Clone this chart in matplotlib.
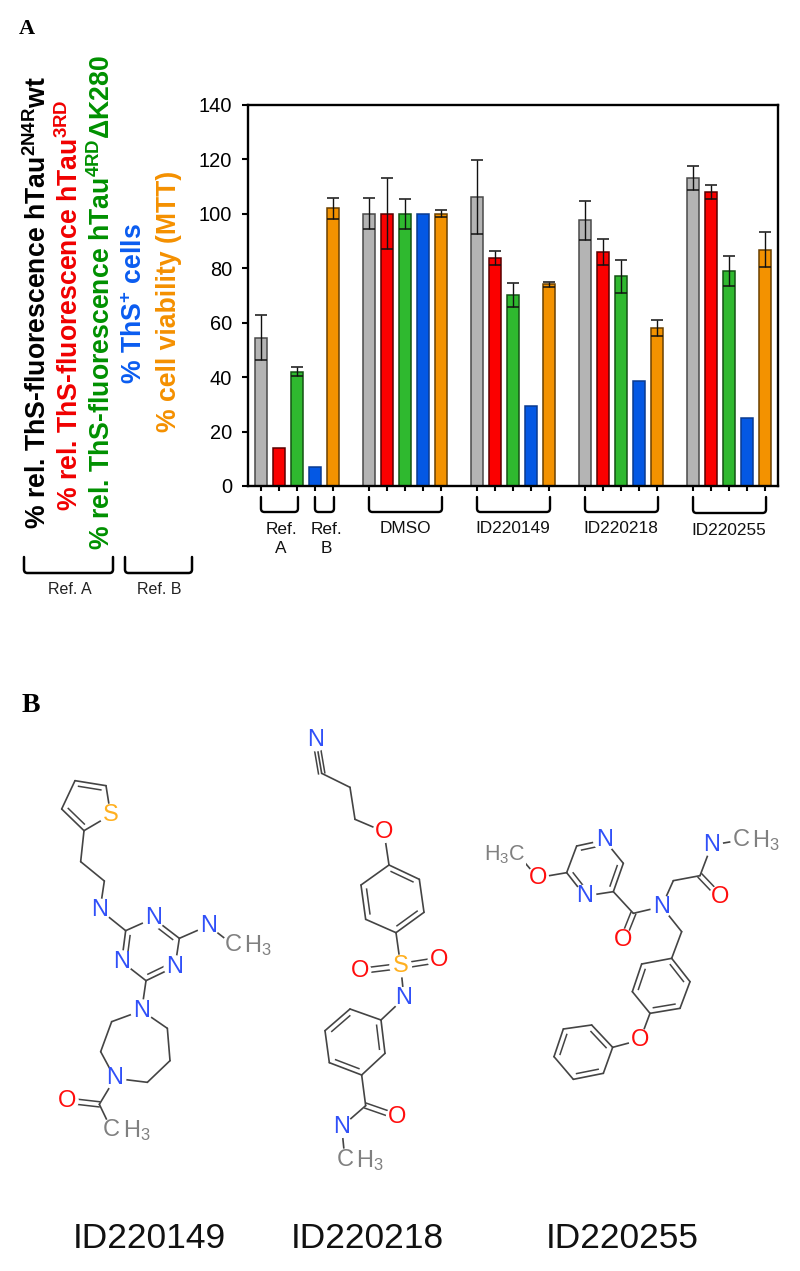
import numpy as np
import matplotlib
matplotlib.use("Agg")
import matplotlib.pyplot as plt
from matplotlib.path import Path
from matplotlib.patches import PathPatch

plt.rcParams["font.family"] = ["Liberation Sans", "DejaVu Sans"]
plt.rcParams["mathtext.default"] = "regular"

W, H = 800, 1271

# values per group: Ref, DMSO, ID220149, ID220218, ID220255
gray_vals = [54.5, 100, 106, 97.5, 113.2]
gray_errs = [8.2, 5.6, 13.6, 7.2, 4.4]
red_vals = [14, 100, 83.7, 86, 108]
red_errs = [0, 13, 2.6, 4.8, 2.6]
green_vals = [42, 100, 70, 77, 79]
green_errs = [1.6, 5.5, 4.4, 6, 5.5]
blue_vals = [7, 100, 29.5, 38.6, 25]
orange_vals = [102, 100, 74, 58, 86.8]
orange_errs = [3.8, 1.4, 0.8, 3, 6.5]
y_ticks = [0, 20, 40, 60, 80, 100, 120, 140]

group_labels = ["Ref.\nA", "Ref.\nB", "DMSO", "ID220149", "ID220218", "ID220255"]
group_spans = [(0, 2), (3, 4), (6, 10), (12, 16), (18, 22), (24, 28)]
compound_names = ["ID220149", "ID220218", "ID220255"]

series = [
    (gray_vals, gray_errs, "#b4b4b4", "#4a4a4a"),
    (red_vals, red_errs, "#fb0000", "#5a0000"),
    (green_vals, green_errs, "#2fb92f", "#145214"),
    (blue_vals, None, "#0458e4", "#0a3a90"),
    (orange_vals, orange_errs, "#f39200", "#6a4000"),
]

C_N = "#3050f8"
C_O = "#ff0d0d"
C_S = "#ffb020"
C_H = "#808080"
C_BOND = "#444444"

fig = plt.figure(figsize=(W / 100, H / 100), dpi=100)

# overlay in picture pixels, for everything outside the bar chart
over = fig.add_axes([0, 0, 1, 1])
over.set_xlim(0, W)
over.set_ylim(H, 0)
over.axis("off")

ax = fig.add_axes([248 / W, 1 - 486 / H, 530 / W, 381.3 / H])
ax.patch.set_alpha(0)

positions = []
for s, (vals, errs, color, edge) in enumerate(series):
    xs = np.arange(len(vals)) * 6 + s
    positions.extend(xs)
    ax.bar(xs, vals, width=0.63, color=color, edgecolor=edge, linewidth=1.1, zorder=2)
    if errs is not None:
        for x, v, e in zip(xs, vals, errs):
            if e > 0:
                ax.errorbar(x, v, yerr=e, color="#111111", elinewidth=1.0, capsize=4.2,
                            capthick=1.1, zorder=3)

ax.set_xlim(-0.72, 28.72)
ax.set_ylim(0, 140)
ax.set_yticks(y_ticks)
ax.set_xticks(sorted(positions))
ax.set_xticklabels([])
ax.tick_params(axis="y", length=4.5, width=1.5, labelsize=14.4, pad=7)
ax.tick_params(axis="x", length=3.6, width=1.5)
for sp in ax.spines.values():
    sp.set_linewidth(1.7)


def bracket(x0, x1, y0, y1, lw=1.7, r=3.5):
    verts = [(x0, y0), (x0, y1 - r), (x0, y1), (x0 + r, y1), (x1 - r, y1), (x1, y1), (x1, y1 - r), (x1, y0)]
    codes = [Path.MOVETO, Path.LINETO, Path.CURVE3, Path.CURVE3, Path.LINETO, Path.CURVE3, Path.CURVE3, Path.LINETO]
    over.add_patch(PathPatch(Path(verts, codes), fill=False, lw=lw, edgecolor="black",
                             capstyle="round", clip_on=False))


def px_x(v):
    return over.transData.inverted().transform(ax.transData.transform((v, 0)))[0]


label_y = [530, 530, 529, 529, 529, 531]
label_dx = [2, 2, 0, 0, 0, 0]
for i, ((a, b), lab) in enumerate(zip(group_spans, group_labels)):
    x0, x1 = px_x(a), px_x(b)
    bottom = 513 if i == 5 else 512
    bracket(x0, x1 + 1, 497, bottom)
    over.text((x0 + x1) / 2 + label_dx[i], label_y[i] - 8, lab, ha="center", va="top", fontsize=12.4,
              color="#111111", linespacing=1.3)

# rotated legend on the left
legend_rows = [
    (38, 529, "% rel. ThS-fluorescence hTau$^{2N4R}$wt", "black"),
    (70, 511, "% rel. ThS-fluorescence hTau$^{3RD}$", "#f00000"),
    (102, 550, "% rel. ThS-fluorescence hTau$^{4RD}$\u0394K280", "#009000"),
    (135, 384, "% ThS$^{+}$ cells", "#0a5cf0"),
    (169, 432, "% cell viability (MTT)", "#f49000"),
]
for x, y, txt, col in legend_rows:
    over.text(x, y, txt, rotation=90, ha="left", va="center", rotation_mode="anchor",
              fontsize=19.2, fontweight="bold", color=col)

bracket(24, 113, 557, 573, lw=1.8)
bracket(125, 192, 557, 573, lw=1.8)
over.text(70, 590, "Ref. A", ha="center", va="center", fontsize=11.5, color="#222222")
over.text(159, 590, "Ref. B", ha="center", va="center", fontsize=11.5, color="#222222")

over.text(19, 29, "A", family="Liberation Serif", fontweight="bold", fontsize=16, va="center", ha="left")
over.text(22, 705, "B", family="Liberation Serif", fontweight="bold", fontsize=20, va="center", ha="left")

# molecules: atom positions in 3x px from an origin; a double bond names an atom on its inner side
mol1_atoms = {
    "a": (165, 272), "b": (258, 287), "S": (272, 375), "c": (192, 422), "d": (125, 357),
    "e": (182, 515), "f": (253, 573), "N1": (240, 660), "g": (317, 722), "N2": (400, 685),
    "h": (478, 745), "N3": (465, 830), "i": (378, 872), "N4": (305, 815), "N5": (565, 707),
    "M1": (640, 765), "N6": (365, 962), "j": (275, 995), "k": (242, 1085), "N7": (285, 1165),
    "l": (382, 1177), "m": (450, 1112), "n": (442, 1015), "o": (238, 1243), "O": (142, 1232),
    "M2": (275, 1320),
}
mol1_bonds = [
    ("a", "b", 2, "c"), ("b", "S", 1, None), ("S", "c", 1, None), ("c", "d", 2, "a"), ("d", "a", 1, None),
    ("c", "e", 1, None), ("e", "f", 1, None), ("f", "N1", 1, None), ("N1", "g", 1, None), ("g", "N2", 1, None),
    ("N2", "h", 2, "i"), ("h", "N3", 1, None), ("N3", "i", 2, "g"), ("i", "N4", 1, None), ("N4", "g", 2, "h"),
    ("h", "N5", 1, None), ("N5", "M1", 1, None), ("i", "N6", 1, None), ("N6", "j", 1, None), ("j", "k", 1, None),
    ("k", "N7", 1, None), ("N7", "l", 1, None), ("l", "m", 1, None), ("m", "n", 1, None), ("n", "N6", 1, None),
    ("N7", "o", 1, None), ("o", "O", 4, None), ("o", "M2", 1, None),
]
mol1_labels = {"S": ("S", C_S), "N1": ("N", C_N), "N2": ("N", C_N), "N3": ("N", C_N), "N4": ("N", C_N),
               "N5": ("N", C_N), "N6": ("N", C_N), "N7": ("N", C_N), "O": ("O", C_O),
               "M1": ("C", C_H), "M2": ("C", C_H)}
mol1_h3 = ["M1", "M2"]

mol2_atoms = {
    "N1": (108, 90), "a": (125, 190), "b": (210, 232), "c": (225, 328), "O1": (312, 365),
    "d": (327, 465), "e": (418, 508), "f": (432, 607), "g": (348, 668), "h": (257, 628), "i": (243, 525),
    "S": (362, 768), "O2": (240, 783), "O3": (477, 750), "N2": (372, 865), "j": (303, 930),
    "k": (210, 897), "l": (135, 962), "m": (148, 1058), "n": (245, 1095), "o": (315, 1030),
    "p": (257, 1187), "O4": (352, 1220), "N3": (185, 1250), "M": (195, 1350),
}
mol2_bonds = [
    ("N1", "a", 3, None), ("a", "b", 1, None), ("b", "c", 1, None), ("c", "O1", 1, None), ("O1", "d", 1, None),
    ("d", "e", 2, "g"), ("e", "f", 1, None), ("f", "g", 2, "d"), ("g", "h", 1, None), ("h", "i", 2, "e"), ("i", "d", 1, None),
    ("g", "S", 1, None), ("S", "O2", 4, None), ("S", "O3", 4, None), ("S", "N2", 1, None), ("N2", "j", 1, None),
    ("j", "k", 1, None), ("k", "l", 2, "n"), ("l", "m", 1, None), ("m", "n", 2, "k"), ("n", "o", 1, None), ("o", "j", 2, "l"),
    ("n", "p", 1, None), ("p", "O4", 4, None), ("p", "N3", 1, None), ("N3", "M", 1, None),
]
mol2_labels = {"N1": ("N", C_N), "O1": ("O", C_O), "S": ("S", C_S), "O2": ("O", C_O), "O3": ("O", C_O),
               "N2": ("N", C_N), "O4": ("O", C_O), "N3": ("N", C_N), "M": ("C", C_H)}
mol2_h3 = ["M"]

mol3_atoms = {
    "M1": (145, 135), "O1": (203, 203), "a": (290, 188), "b": (320, 108), "N1": (403, 90), "c": (460, 160),
    "d": (430, 245), "N2": (345, 258), "e": (490, 310), "O2": (458, 390), "N3": (575, 290), "f": (610, 212),
    "g": (690, 197), "O3": (750, 260), "N4": (725, 105), "M2": (815, 90), "h": (635, 365), "i": (605, 445),
    "j": (515, 462), "k": (487, 545), "l": (540, 610), "m": (630, 595), "n": (660, 515), "O4": (510, 690),
    "o": (428, 712), "p": (365, 645), "q": (280, 657), "r": (252, 740), "s": (310, 808), "t": (400, 790),
}
mol3_bonds = [
    ("M1", "O1", 1, None), ("O1", "a", 1, None), ("a", "b", 1, None), ("b", "N1", 2, "d"), ("N1", "c", 1, None),
    ("c", "d", 2, "a"), ("d", "N2", 1, None), ("N2", "a", 2, "c"), ("d", "e", 1, None), ("e", "O2", 4, None),
    ("e", "N3", 1, None), ("N3", "f", 1, None), ("f", "g", 1, None), ("g", "O3", 4, None), ("g", "N4", 1, None),
    ("N4", "M2", 1, None), ("N3", "h", 1, None), ("h", "i", 1, None), ("i", "j", 1, None), ("j", "k", 2, "m"),
    ("k", "l", 1, None), ("l", "m", 2, "j"), ("m", "n", 1, None), ("n", "i", 2, "k"), ("l", "O4", 1, None),
    ("O4", "o", 1, None), ("o", "p", 2, "r"), ("p", "q", 1, None), ("q", "r", 2, "t"), ("r", "s", 1, None),
    ("s", "t", 2, "q"), ("t", "o", 1, None),
]
mol3_labels = {"O1": ("O", C_O), "N1": ("N", C_N), "N2": ("N", C_N), "O2": ("O", C_O), "N3": ("N", C_N),
               "O3": ("O", C_O), "N4": ("N", C_N), "O4": ("O", C_O), "M2": ("C", C_H)}
mol3_h3 = ["M2"]


def draw_molecule(atoms, bonds, labels, h3, origin, h3_dx):
    pts = {k: np.array((origin[0] + v[0] / 3, origin[1] + v[1] / 3)) for k, v in atoms.items()}
    for a, b, order, inner in bonds:
        p, q = pts[a], pts[b]
        d = q - p
        n = np.array([-d[1], d[0]]) / np.hypot(*d)
        if order in (1, 2, 3):
            over.plot(*zip(p, q), color=C_BOND, lw=1.2, zorder=2, solid_capstyle="round")
        if order == 2:
            o = 5.0 * np.sign(np.dot(n, pts[inner] - p))
            over.plot(*zip(p + n * o + d * 0.14, q + n * o - d * 0.14), color=C_BOND, lw=1.1, zorder=2)
        if order == 3:
            for o in (-3.2, 3.2):
                over.plot(*zip(p + n * o, q + n * o), color=C_BOND, lw=1.1, zorder=2)
        if order == 4:
            for o in (-2.6, 2.6):
                over.plot(*zip(p + n * o, q + n * o), color=C_BOND, lw=1.1, zorder=2)
    for k, (txt, col) in labels.items():
        x, y = pts[k]
        over.text(x, y, txt, color=col, fontsize=17, ha="center", va="center", zorder=4,
                  bbox=dict(boxstyle="circle,pad=0.02", fc="white", ec="none"))
    for k in h3:
        x, y = pts[k]
        over.text(x + h3_dx, y + 1, "H$_3$", color=C_H, fontsize=17, ha="left", va="center", zorder=4)


draw_molecule(mol1_atoms, mol1_bonds, mol1_labels, mol1_h3, (20, 690), 11)
draw_molecule(mol2_atoms, mol2_bonds, mol2_labels, mol2_h3, (280, 710), 11)
draw_molecule(mol3_atoms, mol3_bonds, mol3_labels, mol3_h3, (470, 810), 10)
over.text(470 + 105 / 3, 810 + 135 / 3, "H$_3$C", color=C_H, fontsize=15.5, ha="center", va="center", zorder=4,
          bbox=dict(boxstyle="square,pad=0.02", fc="white", ec="none"))

for x, name in zip([149, 367, 622], compound_names):
    over.text(x, 1238, name, ha="center", va="center", fontsize=25.5, color="#111111")

fig.savefig("out.png", dpi=100)
